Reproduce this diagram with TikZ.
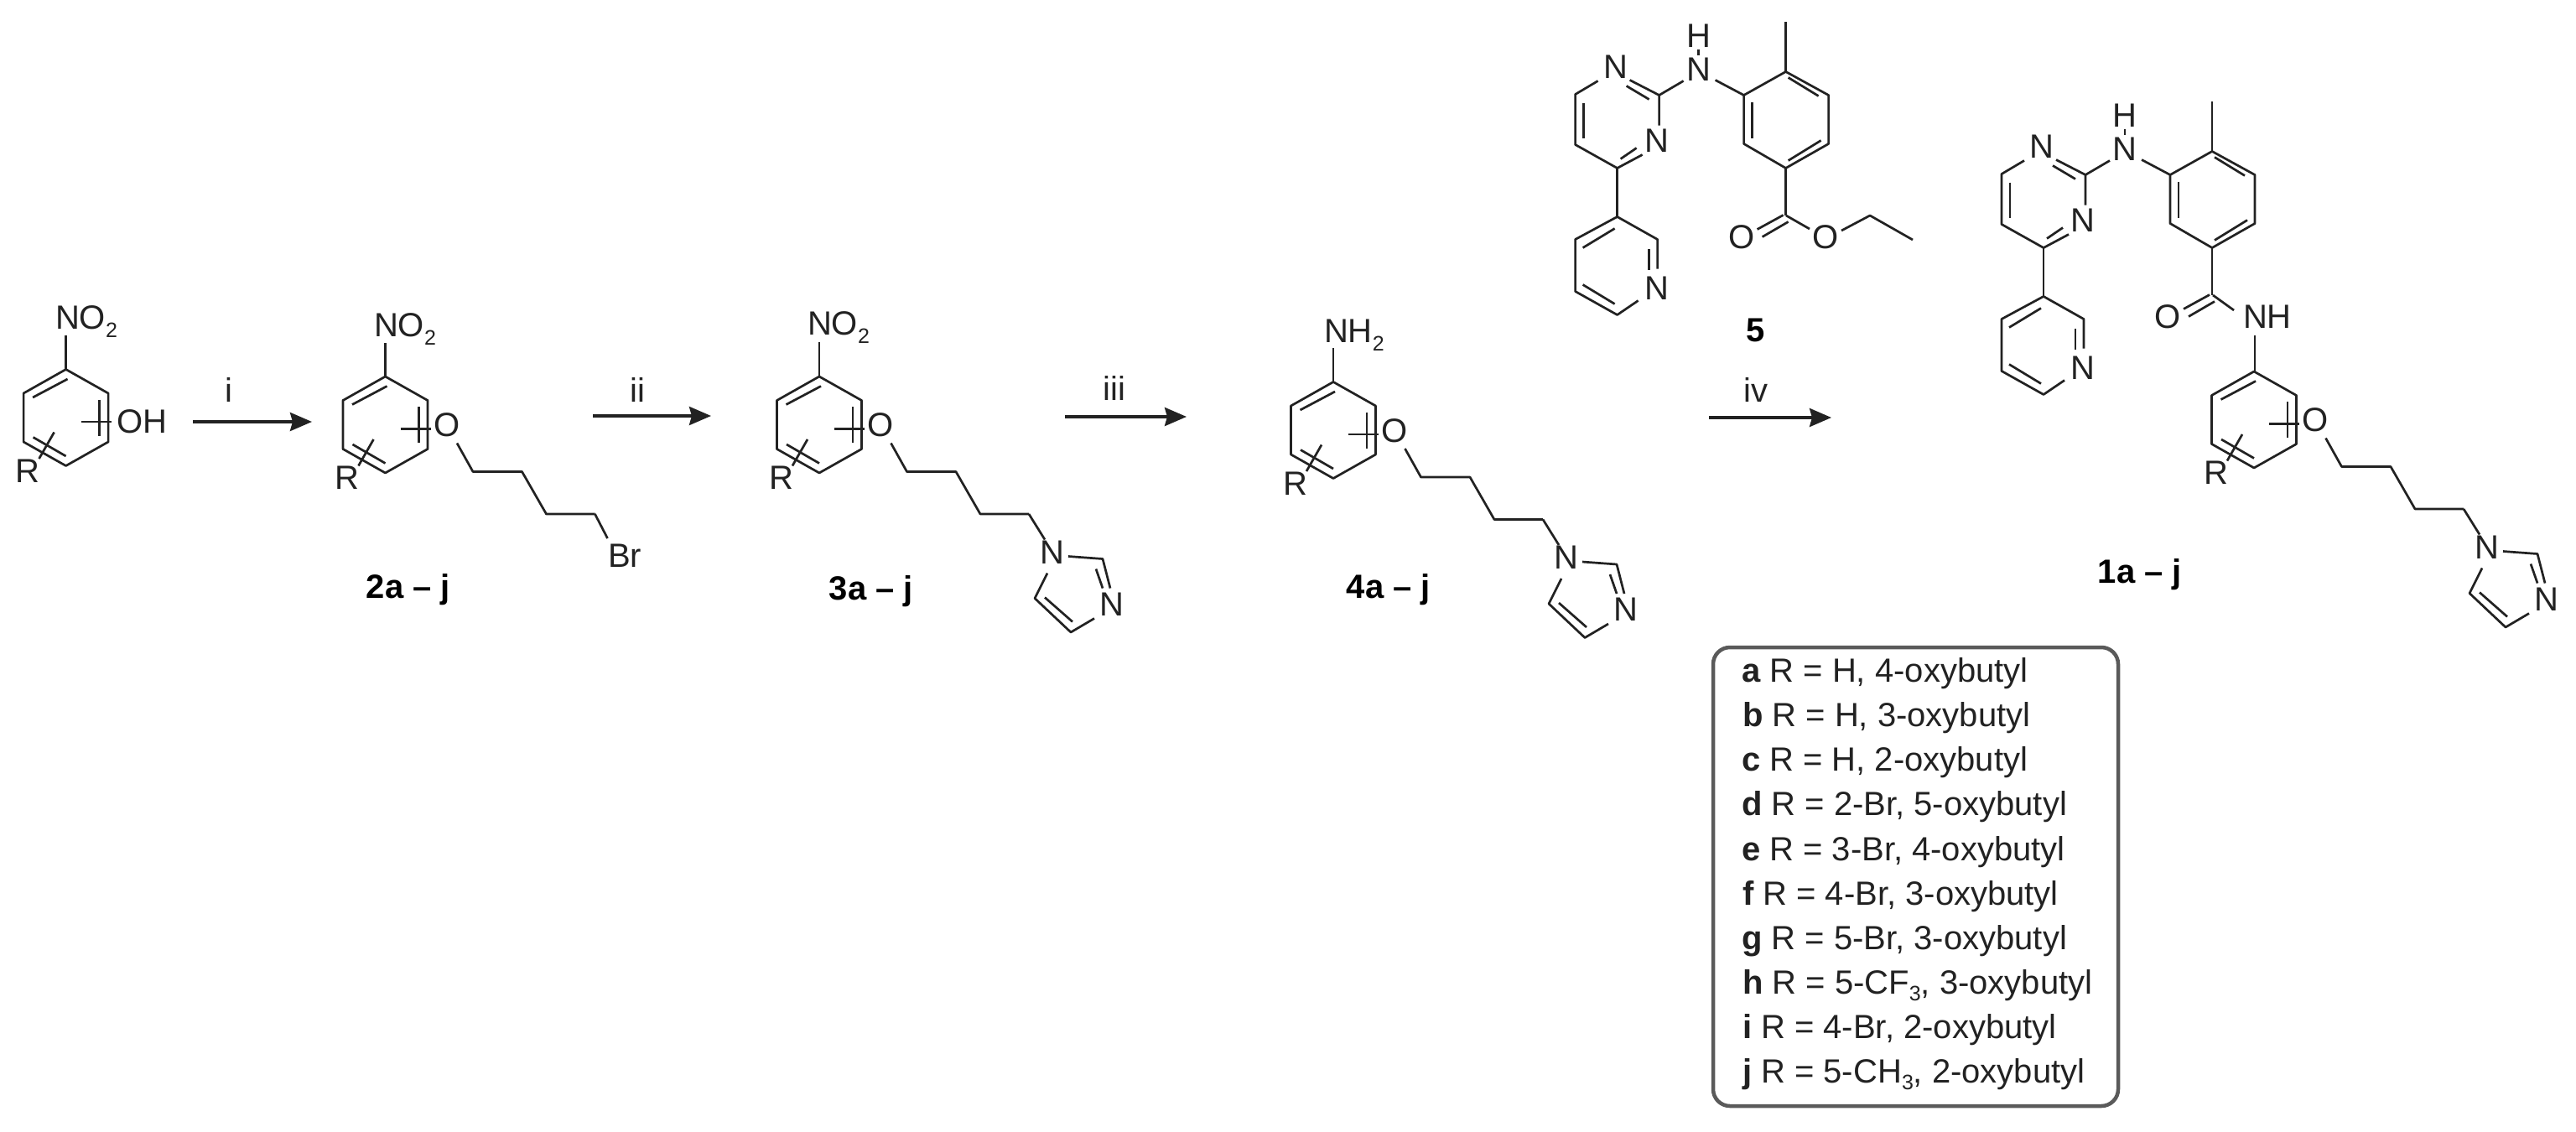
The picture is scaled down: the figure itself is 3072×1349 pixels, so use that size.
\documentclass[tikz,border=0pt]{standalone}
\usepackage{fontspec}
\setmainfont{Liberation Sans}
\usetikzlibrary{arrows.meta}
\definecolor{inkgray}{HTML}{222222}
\definecolor{boxgray}{HTML}{5A5A5A}
\newcommand{\chemsub}[1]{\raisebox{-10pt}{\fontsize{25}{25}\selectfont #1}}
\tikzset{
  bond/.style={line width=2.7pt,color=inkgray,line join=round},
  reaction/.style={line width=3.6pt,color=inkgray,-{Stealth[length=26pt,width=22pt,inset=3pt]}},
  atom/.style={inner sep=0pt,outer sep=0pt,text=inkgray,font=\fontsize{40}{48}\selectfont},
  cpdlabel/.style={atom,text=black,anchor=base},
  rowlabel/.style={atom,anchor=base west},
  pics/arylring/.style={code={
    \draw[bond] (0,-57.5) -- (50.5,-29) -- (50.5,29) -- (0,57.5) -- (-50.5,29) -- (-50.5,-29) -- cycle;
    \draw[bond] (-39.5,-24) -- (2,-46);
    \draw[bond] (40,-21.5) -- (40,21.5);
    \draw[bond] (-39,23.5) -- (0,46);
    \draw[bond] (18,5) -- (54,5);
    \draw[bond] (-14,17.5) -- (-32,49);
    \node[atom] (-rgroup) at (-45.5,63.5) {R};
  }},
  pics/butoxy/.style={code={
    \node[atom] (-oxygen) at (73.5,0.5) {O};
    \draw[bond] (85.5,22) -- (104.5,56) -- (163,56) -- (192,106.5) -- (250,106.5);
  }},
  pics/imidazole/.style={code={
    \draw[bond] (250,106.5) -- (269,137);
    \node[atom] (-none) at (278,152) {N};
    \node[atom] (-ntwo) at (349,214) {N};
    \draw[bond] (297,157) -- (338,160) -- (347,195);
    \draw[bond] (330,172) -- (338,195);
    \draw[bond] (328,231) -- (300,247.5) -- (257,207) -- (272,177);
    \draw[bond] (269,206) -- (302,235);
  }},
  pics/pyrimidyl/.style={code={
    % pyrimidine
    \node[atom] (-nup) at (-2,-63) {N};
    \node[atom] (-ndown) at (47,25) {N};
    \draw[bond] (15,-47) -- (50,-29) -- (50,7);
    \draw[bond] (11,-40) -- (38,-24);
    \draw[bond] (30,42) -- (0,58) -- (-50,30) -- (-50,-30) -- (-23,-46);
    \draw[bond] (4,47) -- (23,34);
    \draw[bond] (-40,-20) -- (-40,22);
    % amine link
    \node[atom] (-nlink) at (97,-60) {N};
    \node[atom] (-hlink) at (97,-100) {H};
    \draw[bond] (97,-84) -- (97,-77);
    \draw[bond] (50,-29) -- (79,-46);
    \draw[bond] (117,-47) -- (151,-29);
    % tolyl
    \draw[bond] (201,-57) -- (252,-29) -- (252,29) -- (201,58) -- (151,29) -- (151,-29) -- cycle;
    \draw[bond] (204,-50) -- (240,-28);
    \draw[bond] (161,-21) -- (161,22);
    \draw[bond] (204,49) -- (243,25);
    \draw[bond] (201,-57) -- (201,-117);
    \draw[bond] (201,58) -- (201,114);
    % carbonyl
    \node[atom] (-carbonyl) at (148,140) {O};
    \draw[bond] (198,114) -- (167,131);
    \draw[bond] (173,140) -- (204,122);
    % pyridine
    \draw[bond] (0,58) -- (0,116);
    \node[atom] (-npy) at (47,201) {N};
    \draw[bond] (25,216) -- (0,233) -- (-50,205) -- (-50,143) -- (0,116) -- (48,143) -- (48,178);
    \draw[bond] (38,154) -- (38,179);
    \draw[bond] (-41,197) -- (-3,220);
    \draw[bond] (-41,153) -- (-3,130);
  }},
}
\begin{document}
\begin{tikzpicture}[x=1pt,y=-1pt]
\useasboundingbox (0,0) rectangle (3072,1349);

% first compound
\pic (ringa) at (78.6,498) {arylring};
\draw[bond] (78.6,440.5) -- (78.6,400);
\node[rowlabel] (nitroa) at (66,392) {NO\chemsub{2}};
\node[atom,anchor=west] (hydroxy) at (139,503) {OH};

% step i
\coordinate (arrowistart) at (230,503);
\coordinate (arrowiend) at (372,503);
\draw[reaction] (arrowistart) -- (arrowiend);
\node[atom] (stepi) at (273,465) {i};

% compound 2
\pic (ringb) at (459.5,506.5) {arylring};
\pic (chainb) at (459.5,506.5) {butoxy};
\draw[bond] (459.5,449) -- (459.5,408.5);
\node[rowlabel] (nitrob) at (446,401.5) {NO\chemsub{2}};
\draw[bond] (709.5,613) -- (724.5,642);
\node[atom] (bromo) at (745,663) {Br};
\node[cpdlabel] (cpdb) at (487,713) {\textbf{2a -- j}};

% step ii
\coordinate (arrowiistart) at (707,496);
\coordinate (arrowiiend) at (848,496);
\draw[reaction] (arrowiistart) -- (arrowiiend);
\node[atom] (stepii) at (760,465) {ii};

% compound 3
\pic (ringc) at (977,506.5) {arylring};
\pic (chainc) at (977,506.5) {butoxy};
\pic (imidc) at (977,506.5) {imidazole};
\draw[bond] (977,449) -- (977,408);
\node[rowlabel] (nitroc) at (963,399) {NO\chemsub{2}};
\node[cpdlabel] (cpdc) at (1039,715) {\textbf{3a -- j}};

% step iii
\coordinate (arrowiiistart) at (1270,497);
\coordinate (arrowiiiend) at (1415,497);
\draw[reaction] (arrowiiistart) -- (arrowiiiend);
\node[atom] (stepiii) at (1329,463) {iii};

% compound 4
\pic (ringd) at (1590,513) {arylring};
\pic (chaind) at (1590,513) {butoxy};
\pic (imidd) at (1590,513) {imidazole};
\draw[bond] (1590,455.5) -- (1590,415);
\node[rowlabel] (amine) at (1579,408) {NH\chemsub{2}};
\node[cpdlabel] (cpdd) at (1656,713) {\textbf{4a -- j}};

% compound 5
\pic (esterpart) at (1928.6,142.5) {pyrimidyl};
\node[atom] (estero) at (2177,283) {O};
\draw[bond] (2130,257) -- (2158,273);
\draw[bond] (2196,275) -- (2230,257) -- (2281,286);
\node[cpdlabel] (cpde) at (2094,407) {\textbf{5}};

% step iv
\coordinate (arrowivstart) at (2038,498);
\coordinate (arrowivend) at (2184,498);
\draw[reaction] (arrowivstart) -- (arrowivend);
\node[atom] (stepiv) at (2094,465) {iv};

% compound 1
\pic (amidepart) at (2437,237.5) {pyrimidyl};
\node[atom,anchor=west] (amidenh) at (2675,378) {NH};
\draw[bond] (2639,352) -- (2664,370);
\draw[bond] (2689,400) -- (2689,443);
\pic (ringe) at (2688,500.5) {arylring};
\pic (chaine) at (2688,500.5) {butoxy};
\pic (imide) at (2688,500.5) {imidazole};
\node[cpdlabel] (cpda) at (2552,695) {\textbf{1a -- j}};

% substituents
\draw[line width=4.5pt,color=boxgray,rounded corners=20pt] (2043,772) rectangle (2526,1319);
\node[rowlabel] (rowa) at (2077,813) {\textbf{a} R = H, 4-oxybutyl};
\node[rowlabel] (rowb) at (2078,866) {\textbf{b} R = H, 3-oxybutyl};
\node[rowlabel] (rowc) at (2077,919.5) {\textbf{c} R = H, 2-oxybutyl};
\node[rowlabel] (rowd) at (2077,972.5) {\textbf{d} R = 2-Br, 5-oxybutyl};
\node[rowlabel] (rowe) at (2077,1026) {\textbf{e} R = 3-Br, 4-oxybutyl};
\node[rowlabel] (rowf) at (2078,1079) {\textbf{f} R = 4-Br, 3-oxybutyl};
\node[rowlabel] (rowg) at (2077,1132) {\textbf{g} R = 5-Br, 3-oxybutyl};
\node[rowlabel] (rowh) at (2078,1185) {\textbf{h} R = 5-CF\raisebox{-8pt}{\fontsize{25}{25}\selectfont 3}, 3-oxybutyl};
\node[rowlabel] (rowi) at (2078,1238) {\textbf{i} R = 4-Br, 2-oxybutyl};
\node[rowlabel] (rowj) at (2078,1291.5) {\textbf{j} R = 5-CH\raisebox{-8pt}{\fontsize{25}{25}\selectfont 3}, 2-oxybutyl};
\end{tikzpicture}
\end{document}
